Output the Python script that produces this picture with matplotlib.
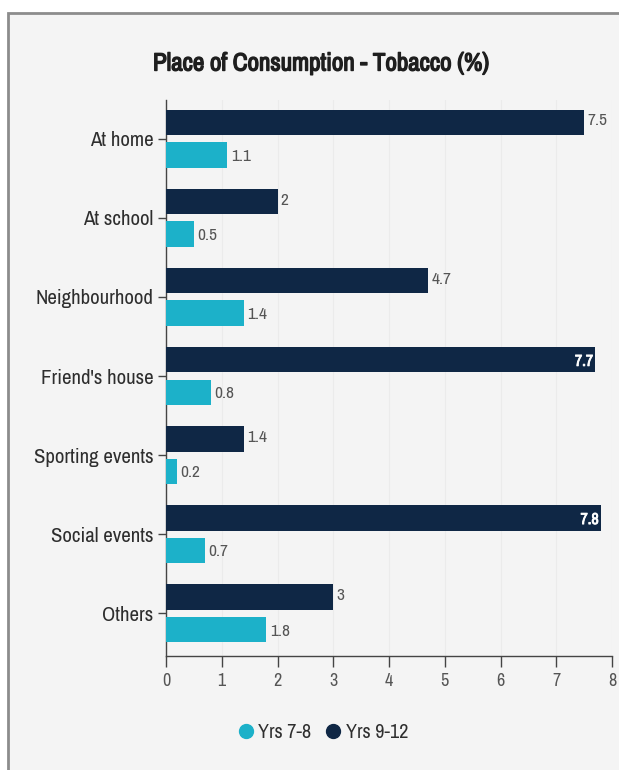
import matplotlib
matplotlib.use("Agg")
import matplotlib.pyplot as plt
import matplotlib.patheffects as pe
from matplotlib.patches import Rectangle
from matplotlib.lines import Line2D
from matplotlib import font_manager as fm
import numpy as np

categories = ["At home", "At school", "Neighbourhood", "Friend's house",
              "Sporting events", "Social events", "Others"]
yrs_9_12 = [7.5, 2, 4.7, 7.7, 1.4, 7.8, 3]
yrs_7_8 = [1.1, 0.5, 1.4, 0.8, 0.2, 0.7, 1.8]
x_ticks = [0, 1, 2, 3, 4, 5, 6, 7, 8]
series_names = ["Yrs 7-8", "Yrs 9-12"]

TEAL = "#1cb1c9"
NAVY = "#0f2745"
TEXT = "#2e2e2e"

# prefer a condensed face when one is installed
names = sorted({f.name for f in fm.fontManager.ttflist})
narrow = [n for n in names if "Condensed" in n or "Narrow" in n]
FONT = narrow[:1] + ["DejaVu Sans"]
plt.rcParams["font.family"] = FONT
plt.rcParams["font.stretch"] = "condensed"

fig = plt.figure(figsize=(6.19, 7.70), dpi=100)
fig.patch.set_facecolor("white")

W, H = 619, 770
fig.add_artist(Rectangle((8 / W, -0.01), 1.0, 1 - 13 / H + 0.01,
                         transform=fig.transFigure, facecolor="#f4f4f4",
                         edgecolor="#8c8c8c", linewidth=2.0, zorder=0))

ax = fig.add_axes([166 / W, 1 - 656 / H, (612 - 166) / W, (656 - 100) / H])
ax.set_facecolor("none")

y = np.arange(len(categories))
h = 0.32
off = 0.205
ax.barh(y - off, yrs_9_12, height=h, color=NAVY, zorder=3)
ax.barh(y + off, yrs_7_8, height=h, color=TEAL, zorder=3)

for yi, v in zip(y, yrs_9_12):
    if v >= 7.6:
        ax.text(v - 0.04, yi - off + 0.02, f"{v:g}", ha="right", va="center",
                color="white", fontsize=11.5, fontweight="bold", zorder=4,
                path_effects=[pe.withStroke(linewidth=0.6, foreground="white")])
    else:
        ax.text(v + 0.06, yi - off - 0.02, f"{v:g}", ha="left", va="center",
                color="#555555", fontsize=12.5, zorder=4)
for yi, v in zip(y, yrs_7_8):
    ax.text(v + 0.06, yi + off + 0.02, f"{v:g}", ha="left", va="center",
            color="#555555", fontsize=12.5, zorder=4)

ax.set_xlim(0, 8)
ax.set_ylim(6.54, -0.49)
ax.set_xticks(x_ticks)
ax.set_xticklabels([str(t) for t in x_ticks])
ax.set_yticks(y)
ax.set_yticklabels(categories)
ax.tick_params(axis="y", length=6, width=1, color="#444444", labelsize=15,
               labelcolor=TEXT, pad=3)
ax.tick_params(axis="x", length=8, width=1, color="#444444", labelsize=13,
               labelcolor="#555555", pad=4)
for s in ["top", "right"]:
    ax.spines[s].set_visible(False)
for s in ["left", "bottom"]:
    ax.spines[s].set_color("#444444")
    ax.spines[s].set_linewidth(1)
ax.xaxis.grid(True, color="#ebebeb", linewidth=0.8, zorder=0)
ax.set_axisbelow(True)

fig.text(321 / W, 1 - 63 / H, "Place of Consumption - Tobacco (%)",
         ha="center", va="center", fontsize=18, fontweight="bold", color="#1e1e1e",
         path_effects=[pe.withStroke(linewidth=1.0, foreground="#1e1e1e")])

handles = [Line2D([], [], marker="o", linestyle="none", markersize=10,
                  markerfacecolor=c, markeredgecolor=c) for c in (TEAL, NAVY)]
fig.legend(handles, series_names, loc="center", bbox_to_anchor=(322 / W, 1 - 733 / H),
           ncol=2, frameon=False, fontsize=14.5, handletextpad=0.1,
           handlelength=1.0, columnspacing=0.6, labelcolor=TEXT)

fig.savefig("out.png", dpi=100)
